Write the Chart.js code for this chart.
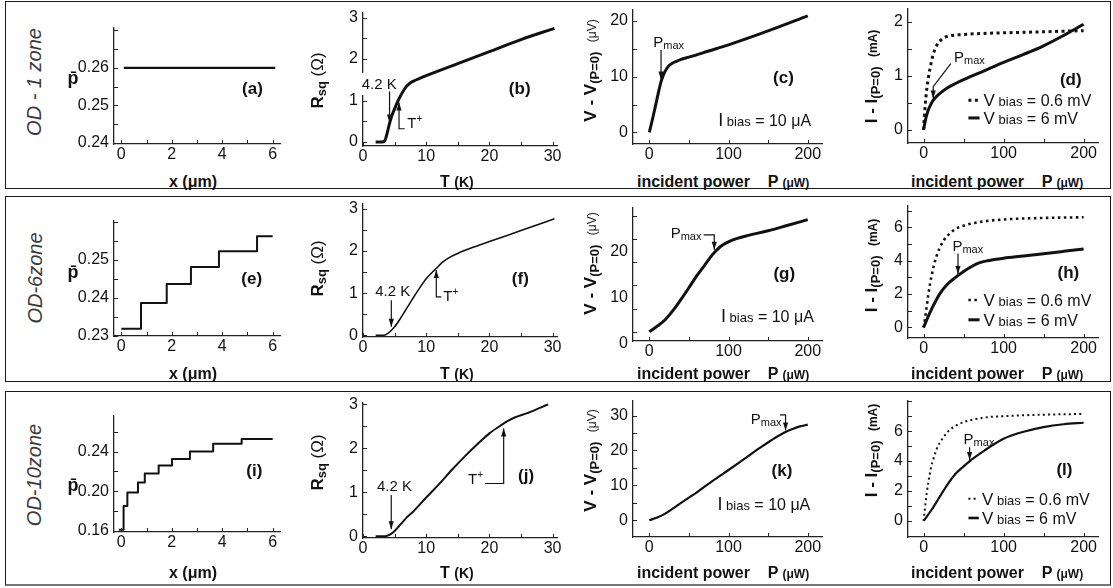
<!DOCTYPE html>
<html>
<head>
<meta charset="utf-8">
<title>OD zone panels</title>
<script src="https://cdn.jsdelivr.net/npm/chart.js@4.4.1/dist/chart.umd.min.js"></script>
<style>
  html, body { margin: 0; padding: 0; background: #fff; }
  body { position: relative; width: 1113px; height: 588px; overflow: hidden;
         font-family: "Liberation Sans", Arial, Helvetica, sans-serif; color: #111; }
  .frame { position: absolute; border: 1.5px solid #1a1a1a; box-sizing: border-box; }
  canvas { position: absolute; }
  .t { position: absolute; white-space: nowrap; line-height: 1; font-weight: bold; font-size: 17px; }
  .t sub { font-size: 13px; vertical-align: -3px; line-height: 0; }
  .t .n { font-weight: normal; }
  .t .s { font-size: 12px; }
  .t .sn { font-size: 12px; font-weight: normal; }
  .xt { font-size: 16px; }
  .row { font-weight: normal; font-style: italic; font-size: 20px; color: #3a3a3a; }
  .pb { font-size: 18px; }
</style>
</head>
<body>
<div class="frame" style="left:5px;top:1px;width:1106px;height:188px"></div>
<div class="frame" style="left:5px;top:196px;width:1106px;height:186px"></div>
<div class="frame" style="left:5px;top:391px;width:1106px;height:195px;border-bottom:2.5px solid #777"></div>
<script>
// ---------- data ----------
// p-bar profiles along x (um)
const aXs = [0.1, 6.1];
const aPs = [0.26, 0.26];
const eEdges = [0, 0.78, 1.8, 2.76, 3.87, 5.38, 6.0];
const eSteps = [0.2318, 0.2386, 0.2436, 0.2481, 0.2522, 0.2562];
const iEdges = [-0.1, 0.09, 0.24, 0.66, 0.93, 1.48, 2.01, 2.72, 3.64, 4.77, 6.0];
const iSteps = [0.1612, 0.1853, 0.1989, 0.2088, 0.2180, 0.2260, 0.2325, 0.2400, 0.2480, 0.2528];

// R_sq (Ohm) versus T (K)
const bT = [2, 3, 3.4, 3.8, 4.2, 4.6, 5, 5.5, 6, 6.5, 7, 7.5, 8, 10, 15, 20, 25, 30.3];
const bR = [0, 0, 0.02, 0.2, 0.45, 0.65, 0.8, 0.98, 1.13, 1.26, 1.36, 1.43, 1.47, 1.6, 1.89, 2.18, 2.47, 2.74];
const fT = [2, 3, 3.5, 4, 4.5, 5, 6, 7, 8, 9, 10, 11, 11.7, 12.5, 13.5, 15, 17, 20, 25, 30.3];
const fR = [0, 0, 0.01, 0.05, 0.12, 0.2, 0.42, 0.66, 0.9, 1.13, 1.34, 1.5, 1.6, 1.72, 1.83, 1.94, 2.06, 2.22, 2.48, 2.76];
const jT = [2, 3, 3.5, 4, 4.5, 5, 6, 7, 8, 10, 12, 14, 16, 18, 20, 22, 23, 24, 26, 28, 29.3];
const jR = [0, 0, 0, 0.02, 0.06, 0.12, 0.28, 0.44, 0.57, 0.88, 1.18, 1.5, 1.8, 2.08, 2.34, 2.54, 2.63, 2.7, 2.8, 2.92, 3.0];

// V - V(P=0) (uV) versus incident power (uW), I_bias = 10 uA
const cP = [0, 5, 10, 15, 20, 25, 30, 35, 40, 50, 75, 100, 150, 200];
const cV = [0, 3.0, 6.2, 9.2, 11.0, 12.0, 12.5, 12.8, 13.1, 13.5, 14.6, 15.7, 18.2, 20.9];
const gP = [0, 10, 20, 30, 40, 50, 60, 70, 80, 90, 100, 110, 125, 150, 175, 200];
const gV = [0, 1.2, 2.6, 4.6, 7.0, 9.5, 12.1, 14.4, 16.7, 18.4, 19.4, 20.1, 20.8, 21.8, 23.0, 24.2];
const kP = [0, 10, 20, 30, 40, 50, 60, 80, 100, 120, 140, 160, 170, 180, 190, 200];
const kV = [0, 0.8, 1.9, 3.4, 5.0, 6.5, 8.0, 11.3, 14.4, 17.6, 20.8, 23.8, 25.1, 26.1, 26.9, 27.4];

// I - I(P=0) (mA) versus incident power (uW), V_bias = 0.6 mV (dotted) and 6 mV (solid)
const dP06 = [0, 1, 2, 3, 4, 6, 8, 10, 12, 15, 18, 22, 27, 35, 50, 75, 100, 150, 200];
const dI06 = [0, 0.25, 0.45, 0.62, 0.76, 0.97, 1.14, 1.28, 1.4, 1.52, 1.61, 1.67, 1.72, 1.75, 1.77, 1.79, 1.8, 1.82, 1.84];
const dP6 = [0, 2, 5, 10, 15, 20, 30, 40, 50, 75, 100, 125, 150, 175, 200];
const dI6 = [0, 0.16, 0.33, 0.5, 0.6, 0.67, 0.78, 0.86, 0.93, 1.09, 1.25, 1.4, 1.56, 1.75, 1.96];
const hP06 = [0, 2, 4, 6, 8, 10, 13, 16, 20, 25, 30, 40, 50, 75, 100, 150, 200];
const hI06 = [0, 0.6, 1.3, 2.0, 2.6, 3.1, 3.75, 4.25, 4.75, 5.2, 5.5, 5.9, 6.1, 6.35, 6.47, 6.56, 6.6];
const hP6 = [0, 5, 10, 20, 30, 40, 50, 60, 70, 80, 100, 125, 150, 175, 200];
const hI6 = [0, 0.58, 1.1, 2.0, 2.6, 3.0, 3.35, 3.65, 3.88, 4.0, 4.15, 4.28, 4.42, 4.56, 4.7];
const lP06 = [0, 2, 4, 6, 9, 12, 16, 20, 25, 30, 40, 50, 75, 100, 150, 200];
const lI06 = [0, 1.0, 1.9, 2.6, 3.5, 4.1, 4.75, 5.2, 5.6, 5.95, 6.35, 6.6, 6.9, 7.0, 7.1, 7.15];
const lP6 = [0, 10, 20, 30, 40, 50, 60, 75, 100, 125, 150, 175, 200];
const lI6 = [0, 0.75, 1.6, 2.45, 3.15, 3.65, 4.1, 4.67, 5.49, 5.96, 6.27, 6.46, 6.56];

// tick labels
const xLabelsX = [0, 2, 4, 6];
const xLabelsT = [0, 10, 20, 30];
const xLabelsP = [0, 100, 200];
const yLabelsA = [0.24, 0.25, 0.26];
const yLabelsE = [0.23, 0.24, 0.25];
const yLabelsI = [0.16, 0.20, 0.24];
const yLabelsR = [0, 1, 2, 3];
const yLabelsC = [0, 10, 20];
const yLabelsG = [0, 10, 20];
const yLabelsK = [0, 10, 20, 30];
const yLabelsD = [0, 1, 2];
const yLabelsH = [0, 2, 4, 6];
const yLabelsL = [0, 2, 4, 6];

// ---------- helpers ----------
const FONT = '"Liberation Sans", Arial, Helvetica, sans-serif';
Chart.defaults.font.family = FONT;
Chart.defaults.color = '#111';

const zip = (xs, ys) => xs.map((x, i) => ({ x, y: ys[i] }));
const steps = (edges, levels) => levels.map((y, i) => ({ x: edges[i], y }))
  .concat([{ x: edges[edges.length - 1], y: levels[levels.length - 1] }]);

const label = (t, x, y) => ({ kind: 'text', x, y, align: 'center', parts: [{ t, s: 17, b: true }] });
const plain = (t, x, y, bg) => ({ kind: 'text', x, y, align: 'left', bg, parts: [{ t, s: 15 }] });
const pmax = (x, y) => ({ kind: 'text', x, y, align: 'left', parts: [{ t: 'P', s: 15 }, { t: 'max', s: 11, dy: 2 }] });
const tplus = (x, y, align) => ({ kind: 'text', x, y, align, parts: [{ t: 'T', s: 15 }, { t: '+', s: 10, dy: -6 }] });
const ibias = (x, y) => ({ kind: 'text', x, y, align: 'left',
  parts: [{ t: 'I', s: 18 }, { t: ' bias', s: 13 }, { t: ' = 10 \u03bcA', s: 16 }] });
const vbias = (v, x, y) => ({ kind: 'text', x, y, align: 'left',
  parts: [{ t: 'V', s: 17 }, { t: ' bias', s: 13 }, { t: ' = ' + v, s: 16 }] });
const arrow = pts => ({ kind: 'arrow', pts });
const sample = (x1, x2, y, w, dash) => ({ kind: 'sample', x1, x2, y, w, dash });

const panels = [
  // row 1
  { box: [114, 27, 280, 144], x: [-0.29, 6.29], y: [0.2397, 0.2707], xt: xLabelsX, yt: yLabelsA, xm: 1, ym: 0.005, dec: 2,
    sets: [{ pts: zip(aXs, aPs), w: 2.2 }],
    notes: [label('(a)', 5.2, 0.2546)] },
  { box: [363, 12, 557, 146], x: [0, 30.7], y: [-0.096, 3.12], xt: xLabelsT, yt: yLabelsR, xm: 5, ym: 0.5,
    sets: [{ pts: zip(bT, bR), w: 3 }],
    notes: [plain('4.2 K', -0.2, 1.4, true), arrow([[4.2, 1.22], [4.2, 0.47]]),
            arrow([[6.6, 0.32], [5.7, 0.32], [5.7, 0.95]]), tplus(7.0, 0.47, 'left'), label('(b)', 24.8, 1.3)] },
  { box: [633, 9, 822, 144], x: [-20.6, 218], y: [-2.07, 22.03], xt: xLabelsP, yt: yLabelsC, xm: 50, ym: 5,
    sets: [{ pts: zip(cP, cV), w: 3 }],
    notes: [pmax(5, 16.25), arrow([[14.8, 14.8], [14.8, 9.5]]), label('(c)', 169.4, 9.9), ibias(87, 2.4)] },
  { box: [908, 8, 1098, 143], x: [-19.5, 218], y: [-0.245, 2.25], xt: xLabelsP, yt: yLabelsD, xm: 50, ym: 0.5,
    sets: [{ pts: zip(dP06, dI06), w: 3, dash: [3, 3.5] }, { pts: zip(dP6, dI6), w: 3 }],
    notes: [pmax(38, 1.35), arrow([[34, 1.23], [12, 0.8], [12, 0.58]]), label('(d)', 184, 0.95),
            sample(56, 70, 0.55, 3, [3, 3.5]), vbias('0.6 mV', 75, 0.55),
            sample(56, 70, 0.22, 3), vbias('6 mV', 75, 0.22)] },
  // row 2
  { box: [114, 220, 280, 336], x: [-0.29, 6.29], y: [0.2299, 0.2603], xt: xLabelsX, yt: yLabelsE, xm: 1, ym: 0.005, dec: 2,
    sets: [{ pts: steps(eEdges, eSteps), w: 2, step: true }],
    notes: [label('(e)', 5.17, 0.2451)] },
  { box: [363, 203, 557, 337], x: [0, 30.7], y: [-0.04, 3.12], xt: xLabelsT, yt: yLabelsR, xm: 5, ym: 0.5,
    sets: [{ pts: zip(fT, fR), w: 1.6 }],
    notes: [plain('4.2 K', 1.94, 1.07), arrow([[4.48, 0.83], [4.48, 0.2]]),
            arrow([[12.4, 0.91], [11.6, 0.91], [11.6, 1.55]]), tplus(12.7, 0.95, 'left'), label('(f)', 24.9, 1.37)] },
  { box: [633, 207, 822, 341], x: [-20.6, 218], y: [-2.0, 26.8], xt: xLabelsP, yt: yLabelsG, xm: 50, ym: 5, lo: 12,
    sets: [{ pts: zip(gP, gV), w: 3 }],
    notes: [pmax(27, 21.3), arrow([[68.6, 20.9], [82, 20.9], [82, 17.7]]), label('(g)', 170.4, 12.7), ibias(90.5, 3.4)] },
  { box: [908, 205, 1098, 338], x: [-19.5, 218], y: [-0.63, 7.3], xt: xLabelsP, yt: yLabelsH, xm: 50, ym: 1,
    sets: [{ pts: zip(hP06, hI06), w: 2.6, dash: [2.5, 3.5] }, { pts: zip(hP6, hI6), w: 3 }],
    notes: [pmax(36, 4.92), arrow([[43, 4.43], [43, 3.2]]), label('(h)', 181, 3.33),
            sample(56, 70, 1.65, 2.6, [2.5, 3.5]), vbias('0.6 mV', 75, 1.65),
            sample(56, 70, 0.46, 3), vbias('6 mV', 75, 0.46)] },
  // row 3
  { box: [114, 415, 280, 532], x: [-0.29, 6.29], y: [0.159, 0.2763], xt: xLabelsX, yt: yLabelsI, xm: 1, ym: 0.02, dec: 2,
    sets: [{ pts: steps(iEdges, iSteps), w: 2, step: true }],
    notes: [label('(i)', 5.27, 0.2219)] },
  { box: [363, 402, 557, 538], x: [0, 30.7], y: [-0.04, 3.04], xt: xLabelsT, yt: yLabelsR, xm: 5, ym: 0.5,
    sets: [{ pts: zip(jT, jR), w: 2 }],
    notes: [plain('4.2 K', 2.2, 1.16), arrow([[4.47, 0.94], [4.47, 0.16]]),
            arrow([[19.3, 1.2], [22.26, 1.2], [22.26, 2.45]]), tplus(19.0, 1.3, 'right'), label('(j)', 25.8, 1.39)] },
  { box: [633, 400, 822, 537], x: [-20.6, 218], y: [-4.8, 34.3], xt: xLabelsP, yt: yLabelsK, xm: 50, ym: 5,
    sets: [{ pts: zip(kP, kV), w: 2.2 }],
    notes: [pmax(128, 29), arrow([[165, 30.2], [172, 30.2], [172, 25.7]]), label('(k)', 167.5, 14.3), ibias(86, 4.8)] },
  { box: [908, 400, 1098, 537], x: [-19.5, 218], y: [-1.07, 8.04], xt: xLabelsP, yt: yLabelsL, xm: 50, ym: 1,
    sets: [{ pts: zip(lP06, lI06), w: 2, dash: [2, 3.2] }, { pts: zip(lP6, lI6), w: 2.2 }],
    notes: [pmax(50, 5.5), arrow([[57.5, 4.93], [57.5, 4.08]]), label('(l)', 176, 3.49),
            sample(56, 69, 1.49, 2, [2, 3.2]), vbias('0.6 mV', 73, 1.49),
            sample(56, 69, 0.2, 2.6), vbias('6 mV', 73, 0.2)] }
];

function marks(min, max, step) {
  const out = [];
  for (let k = Math.ceil(min / step - 1e-6); k * step <= max + 1e-9; k++) out.push(+(k * step).toFixed(6));
  return out;
}
const fontOf = q => (q.b ? 'bold ' : '') + q.s + 'px ' + FONT;

function drawNote(ctx, n, xs, ys) {
  ctx.fillStyle = '#111';
  ctx.strokeStyle = '#111';
  if (n.kind === 'text') {
    let w = 0, big = 0;
    n.parts.forEach(q => { ctx.font = fontOf(q); w += ctx.measureText(q.t).width; big = Math.max(big, q.s); });
    const px = xs.getPixelForValue(n.x), py = ys.getPixelForValue(n.y);
    let x = n.align === 'center' ? px - w / 2 : n.align === 'right' ? px - w : px;
    if (n.bg) { ctx.fillStyle = '#fff'; ctx.fillRect(x - 1, py - 11, w + 2, 22); ctx.fillStyle = '#111'; }
    const base = py + big * 0.36;
    ctx.textBaseline = 'alphabetic';
    ctx.textAlign = 'left';
    n.parts.forEach(q => { ctx.font = fontOf(q); ctx.fillText(q.t, x, base + (q.dy || 0)); x += ctx.measureText(q.t).width; });
  } else if (n.kind === 'arrow') {
    const pts = n.pts.map(([a, b]) => [xs.getPixelForValue(a), ys.getPixelForValue(b)]);
    ctx.lineWidth = 1.2;
    ctx.beginPath();
    pts.forEach(([a, b], i) => (i ? ctx.lineTo(a, b) : ctx.moveTo(a, b)));
    ctx.stroke();
    const [x1, y1] = pts[pts.length - 2], [x2, y2] = pts[pts.length - 1];
    const ang = Math.atan2(y2 - y1, x2 - x1), L = 8, H = 2.6;
    ctx.beginPath();
    ctx.moveTo(x2, y2);
    ctx.lineTo(x2 - L * Math.cos(ang) + H * Math.sin(ang), y2 - L * Math.sin(ang) - H * Math.cos(ang));
    ctx.lineTo(x2 - L * Math.cos(ang) - H * Math.sin(ang), y2 - L * Math.sin(ang) + H * Math.cos(ang));
    ctx.closePath();
    ctx.fill();
  } else if (n.kind === 'sample') {
    const y = ys.getPixelForValue(n.y);
    ctx.lineWidth = n.w;
    ctx.lineCap = 'butt';
    ctx.setLineDash(n.dash || []);
    ctx.beginPath();
    ctx.moveTo(xs.getPixelForValue(n.x1), y);
    ctx.lineTo(xs.getPixelForValue(n.x2), y);
    ctx.stroke();
    ctx.setLineDash([]);
  }
}

// inward ticks + annotations for each panel
const panelOf = new WeakMap();
const decor = {
  id: 'decor',
  afterDraw(chart) {
    const p = panelOf.get(chart.canvas);
    if (!p) return;
    const ctx = chart.ctx, ca = chart.chartArea;
    const xs = chart.scales.x, ys = chart.scales.y;
    ctx.save();
    ctx.strokeStyle = '#222';
    ctx.lineWidth = 1;
    ctx.beginPath();
    marks(xs.min, xs.max, p.xm).forEach(v => {
      const px = Math.round(xs.getPixelForValue(v)) + 0.5;
      ctx.moveTo(px, ca.bottom);
      ctx.lineTo(px, ca.bottom - 4);
    });
    marks(ys.min, ys.max, p.ym).forEach(v => {
      const py = Math.round(ys.getPixelForValue(v)) + 0.5;
      ctx.moveTo(ca.left, py);
      ctx.lineTo(ca.left + 4, py);
    });
    ctx.stroke();
    p.notes.forEach(n => drawNote(ctx, n, xs, ys));
    ctx.restore();
  }
};

const PAD_L = 4, Y_W = 56, PAD_T = 14, PAD_R = 16, X_H = 26, PAD_B = 2;

panels.forEach(p => {
  const [x0, y0, x1, y1] = p.box;
  const W = x1 - x0 + PAD_L + Y_W + PAD_R, H = y1 - y0 + PAD_T + X_H + PAD_B;
  const cv = document.createElement('canvas');
  cv.width = W; cv.height = H;
  cv.style.left = (x0 - PAD_L - Y_W) + 'px';
  cv.style.top = (y0 - PAD_T) + 'px';
  cv.style.width = W + 'px';
  cv.style.height = H + 'px';
  document.body.appendChild(cv);
  panelOf.set(cv, p);
  const dec = p.dec || 0;
  const axisBase = {
    type: 'linear',
    grid: { display: false, drawTicks: false, tickLength: 0 },
    border: { display: true, color: '#222', width: 1.3 }
  };
  new Chart(cv, {
    type: 'line',
    data: {
      datasets: p.sets.map(s => ({
        data: s.pts,
        borderColor: '#111',
        borderWidth: s.w,
        borderDash: s.dash || [],
        borderCapStyle: 'butt',
        borderJoinStyle: 'round',
        pointRadius: 0,
        fill: false,
        stepped: s.step ? 'before' : false,
        cubicInterpolationMode: s.step ? 'default' : 'monotone',
        tension: 0
      }))
    },
    options: {
      responsive: false,
      animation: false,
      events: [],
      layout: { padding: { left: PAD_L, top: PAD_T, right: PAD_R, bottom: PAD_B } },
      plugins: { legend: { display: false }, tooltip: { enabled: false } },
      scales: {
        x: Object.assign({}, axisBase, {
          position: 'bottom', min: p.x[0], max: p.x[1],
          afterFit: s => { s.height = X_H; },
          afterBuildTicks: s => { s.ticks = p.xt.map(v => ({ value: v })); },
          ticks: { padding: 1, maxRotation: 0, autoSkip: false, font: { size: 16 }, color: '#111',
                   callback: v => String(v) }
        }),
        y: Object.assign({}, axisBase, {
          position: 'left', min: p.y[0], max: p.y[1],
          afterFit: s => { s.width = Y_W; },
          afterBuildTicks: s => { s.ticks = p.yt.map(v => ({ value: v })); },
          ticks: { padding: 5, autoSkip: false, labelOffset: p.lo || 0, font: { size: 16 }, color: '#111',
                   callback: v => v.toFixed(dec) }
        })
      }
    },
    plugins: [decor]
  });
});

// ---------- axis titles and row labels (HTML text) ----------
const RSQ = 'R<sub>sq</sub> <span class="n">(\u03a9)</span>';
const VT = 'V - V<sub>(P=0)</sub>&nbsp;&nbsp;<span class="sn">(\u03bcV)</span>';
const IT = 'I - I<sub>(P=0)</sub>&nbsp;&nbsp;<span class="s">(mA)</span>';
const XT = 'x (\u03bcm)';
const TT = 'T <span style="font-size:14px">(K)</span>';
const PT = 'incident power&nbsp;&nbsp;&nbsp;&nbsp;P <span class="s">(\u03bcW)</span>';
const titles = [
  ['OD - 1 zone', 34, 82, true, 'row'], ['OD-6zone', 34, 278, true, 'row'], ['OD-10zone', 34, 475, true, 'row'],
  ['p\u0304', 73, 78, false, 'pb'], ['p\u0304', 73, 272, false, 'pb'], ['p\u0304', 73, 485, false, 'pb'],
  [RSQ, 317, 80, true], [RSQ, 317, 268, true], [RSQ, 317, 462, true],
  [VT, 590, 70, true], [VT, 590, 263, true], [VT, 590, 460, true],
  [IT, 872, 76, true], [IT, 872, 265, true], [IT, 872, 450, true],
  [XT, 193, 182, false, 'xt'], [XT, 193, 374, false, 'xt'], [XT, 193, 573, false, 'xt'],
  [TT, 457, 182, false, 'xt'], [TT, 457, 374, false, 'xt'], [TT, 457, 573, false, 'xt'],
  [PT, 723, 182, false, 'xt'], [PT, 723, 374, false, 'xt'], [PT, 723, 573, false, 'xt'],
  [PT, 997, 182, false, 'xt'], [PT, 997, 374, false, 'xt'], [PT, 997, 573, false, 'xt']
];
titles.forEach(([html, cx, cy, rot, cls]) => {
  const d = document.createElement('div');
  d.className = 't' + (cls ? ' ' + cls : '');
  d.innerHTML = html;
  document.body.appendChild(d);
  const w = d.offsetWidth, h = d.offsetHeight;
  d.style.left = (cx - w / 2) + 'px';
  d.style.top = (cy - h / 2) + 'px';
  if (rot) d.style.transform = 'rotate(-90deg)';
});
</script>
</body>
</html>
